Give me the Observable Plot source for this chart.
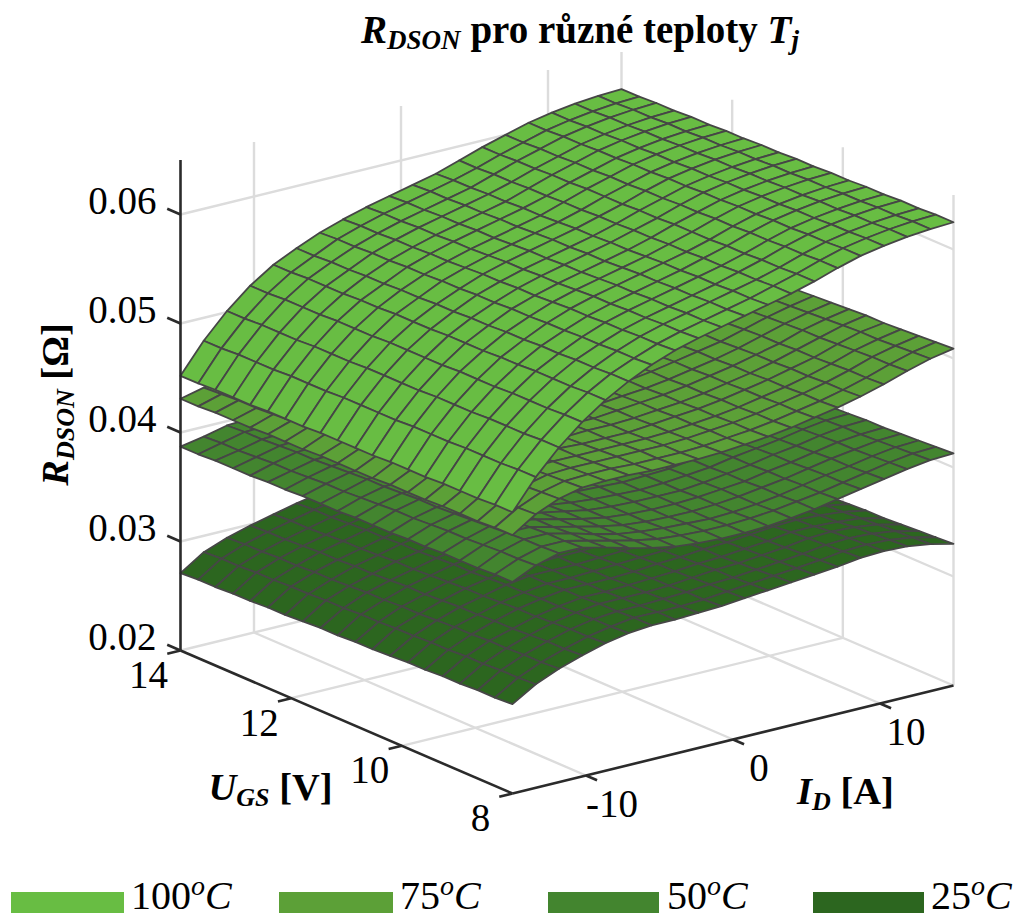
<!DOCTYPE html>
<html><head><meta charset="utf-8">
<script src="https://cdn.jsdelivr.net/npm/d3@7"></script>
<script src="https://cdn.jsdelivr.net/npm/@observablehq/plot@0.6"></script>
<style>
html,body{margin:0;padding:0;background:#fff;overflow:hidden}
#page{position:relative;width:1030px;height:919px;font-family:"Liberation Serif",serif;color:#000}
#title{position:absolute;left:0;top:0;width:1160px;height:50px;line-height:60px;text-align:center;font-weight:bold;font-size:39px;white-space:nowrap}
#title sub{font-size:27px;line-height:0;vertical-align:-6px}
#chart{position:absolute;left:0;top:50px}
.sw{position:absolute;top:892px;height:21px}
.lb{position:absolute;top:881px;height:30px;font-size:40px;line-height:30px;white-space:nowrap}
.lb i{font-style:italic}
.lb sup{font-size:28px;line-height:0;vertical-align:14px;font-style:italic}
</style></head><body>
<div id="page">
<div id="title"><i>R<sub>DSON</sub></i> pro různé teploty <i>T<sub>j</sub></i></div>
<div id="chart"></div>
<div id="legend"></div>
</div>
<script>
// Grid of the measured surfaces
const idValues=[-15,-13.42,-11.84,-10.26,-8.68,-7.11,-5.53,-3.95,-2.37,-0.79,0.79,2.37,3.95,5.53,7.11,8.68,10.26,11.84,13.42,15];
const ugsValues=[14,13.68,13.37,13.05,12.74,12.42,12.11,11.79,11.47,11.16,10.84,10.53,10.21,9.89,9.58,9.26,8.95,8.63,8.32,8];
// RDSON in milliohm: one row per ID value, one entry per UGS value
const r100=[
[45.2,45.2,45.3,45.3,45.3,45.4,45.4,45.4,45.5,45.5,45.5,45.5,45.6,45.6,45.6,45.7,45.7,45.7,45.8,45.8],
[47.9,47.9,48.0,48.0,48.0,48.1,48.1,48.1,48.2,48.2,48.2,48.2,48.3,48.3,48.3,48.4,48.4,48.4,48.5,48.5],
[50.1,50.1,50.2,50.2,50.2,50.3,50.3,50.3,50.4,50.4,50.4,50.4,50.5,50.5,50.5,50.6,50.6,50.6,50.7,50.7],
[51.9,51.9,52.0,52.0,52.0,52.1,52.1,52.1,52.2,52.2,52.2,52.2,52.3,52.3,52.3,52.4,52.4,52.4,52.5,52.5],
[53.3,53.3,53.4,53.4,53.4,53.5,53.5,53.6,53.6,53.6,53.7,53.7,53.7,53.8,53.8,53.9,53.9,53.9,54.0,54.0],
[54.3,54.3,54.4,54.4,54.5,54.5,54.6,54.6,54.7,54.7,54.8,54.8,54.9,54.9,55.0,55.0,55.1,55.1,55.2,55.2],
[55.2,55.3,55.3,55.4,55.4,55.5,55.5,55.6,55.6,55.7,55.7,55.8,55.8,55.9,55.9,56.0,56.0,56.1,56.1,56.2],
[55.9,56.0,56.0,56.1,56.1,56.2,56.2,56.3,56.4,56.4,56.5,56.5,56.6,56.7,56.7,56.8,56.8,56.9,56.9,57.0],
[56.5,56.6,56.6,56.7,56.7,56.8,56.8,56.9,57.0,57.0,57.1,57.1,57.2,57.3,57.3,57.4,57.4,57.5,57.5,57.6],
[57.0,57.1,57.1,57.2,57.2,57.3,57.3,57.4,57.5,57.5,57.6,57.6,57.7,57.8,57.8,57.9,57.9,58.0,58.0,58.1],
[57.5,57.6,57.6,57.7,57.7,57.8,57.8,57.9,58.0,58.0,58.1,58.1,58.2,58.3,58.3,58.4,58.4,58.5,58.5,58.6],
[58.0,58.1,58.1,58.2,58.2,58.3,58.3,58.4,58.5,58.5,58.6,58.6,58.7,58.8,58.8,58.9,58.9,59.0,59.0,59.1],
[58.7,58.7,58.8,58.8,58.9,58.9,59.0,59.0,59.1,59.1,59.2,59.2,59.3,59.3,59.4,59.4,59.5,59.5,59.6,59.6],
[59.4,59.4,59.5,59.5,59.6,59.6,59.7,59.7,59.7,59.8,59.8,59.9,59.9,59.9,60.0,60.0,60.1,60.1,60.2,60.2],
[60.0,60.0,60.1,60.1,60.2,60.2,60.3,60.3,60.4,60.4,60.5,60.5,60.6,60.6,60.7,60.7,60.8,60.8,60.9,60.9],
[60.6,60.6,60.7,60.7,60.8,60.8,60.9,60.9,61.0,61.0,61.1,61.1,61.2,61.2,61.3,61.3,61.4,61.4,61.5,61.5],
[61.0,61.0,61.1,61.1,61.2,61.2,61.3,61.3,61.4,61.4,61.5,61.5,61.6,61.6,61.7,61.7,61.8,61.8,61.9,61.9],
[61.3,61.3,61.4,61.4,61.5,61.5,61.6,61.6,61.7,61.7,61.8,61.8,61.9,61.9,62.0,62.0,62.1,62.1,62.2,62.2],
[61.5,61.5,61.6,61.6,61.7,61.7,61.8,61.8,61.9,61.9,62.0,62.0,62.1,62.1,62.2,62.2,62.3,62.3,62.4,62.4],
[61.6,61.6,61.7,61.7,61.8,61.8,61.9,61.9,62.0,62.0,62.1,62.1,62.2,62.2,62.3,62.3,62.4,62.4,62.5,62.5]];
const r75=[
[43.1,43.1,43.2,43.2,43.2,43.3,43.3,43.3,43.4,43.4,43.4,43.4,43.5,43.5,43.5,43.6,43.6,43.6,43.7,43.7],
[43.6,43.7,43.8,43.8,43.9,44.0,44.1,44.2,44.2,44.3,44.4,44.5,44.5,44.6,44.7,44.8,44.9,44.9,45.0,45.1],
[44.1,44.2,44.3,44.4,44.5,44.6,44.7,44.8,44.9,45.0,45.1,45.2,45.3,45.4,45.5,45.6,45.7,45.8,45.9,46.0],
[44.5,44.6,44.7,44.8,44.9,45.0,45.1,45.2,45.3,45.4,45.6,45.7,45.8,45.9,46.0,46.1,46.2,46.3,46.4,46.5],
[44.8,44.9,45.0,45.1,45.2,45.3,45.4,45.5,45.6,45.7,45.7,45.8,45.9,46.0,46.1,46.2,46.3,46.4,46.5,46.6],
[45.0,45.1,45.2,45.3,45.3,45.4,45.5,45.6,45.7,45.8,45.8,45.9,46.0,46.1,46.2,46.3,46.3,46.4,46.5,46.6],
[45.1,45.2,45.2,45.3,45.4,45.5,45.5,45.6,45.7,45.8,45.8,45.9,46.0,46.1,46.1,46.2,46.3,46.4,46.4,46.5],
[45.2,45.3,45.3,45.4,45.5,45.5,45.6,45.7,45.7,45.8,45.9,46.0,46.0,46.1,46.2,46.2,46.3,46.4,46.4,46.5],
[45.3,45.4,45.4,45.5,45.6,45.6,45.7,45.7,45.8,45.9,45.9,46.0,46.1,46.1,46.2,46.2,46.3,46.4,46.4,46.5],
[45.5,45.6,45.6,45.7,45.7,45.8,45.8,45.9,46.0,46.0,46.1,46.1,46.2,46.3,46.3,46.4,46.4,46.5,46.5,46.6],
[45.7,45.8,45.8,45.9,45.9,46.0,46.0,46.1,46.2,46.2,46.3,46.3,46.4,46.5,46.5,46.6,46.6,46.7,46.7,46.8],
[46.0,46.1,46.1,46.2,46.2,46.3,46.3,46.4,46.4,46.5,46.5,46.6,46.6,46.7,46.7,46.8,46.8,46.9,46.9,47.0],
[46.3,46.4,46.4,46.5,46.5,46.6,46.6,46.7,46.7,46.8,46.8,46.9,46.9,47.0,47.0,47.1,47.1,47.2,47.2,47.3],
[46.7,46.8,46.8,46.9,46.9,47.0,47.0,47.1,47.1,47.2,47.2,47.3,47.3,47.4,47.4,47.5,47.5,47.6,47.6,47.7],
[47.1,47.2,47.2,47.3,47.3,47.4,47.4,47.5,47.5,47.6,47.6,47.7,47.7,47.8,47.8,47.9,47.9,48.0,48.0,48.1],
[47.5,47.6,47.6,47.7,47.7,47.8,47.8,47.9,48.0,48.0,48.1,48.1,48.2,48.3,48.3,48.4,48.4,48.5,48.5,48.6],
[48.0,48.1,48.1,48.2,48.3,48.3,48.4,48.4,48.5,48.6,48.6,48.7,48.8,48.8,48.9,48.9,49.0,49.1,49.1,49.2],
[48.5,48.6,48.6,48.7,48.8,48.9,48.9,49.0,49.1,49.2,49.2,49.3,49.4,49.5,49.5,49.6,49.7,49.8,49.8,49.9],
[48.9,49.0,49.1,49.2,49.2,49.3,49.4,49.5,49.6,49.7,49.7,49.8,49.9,50.0,50.1,50.2,50.2,50.3,50.4,50.5],
[49.2,49.3,49.4,49.5,49.6,49.6,49.7,49.8,49.9,50.0,50.1,50.2,50.3,50.4,50.5,50.5,50.6,50.7,50.8,50.9]];
const r50=[
[38.7,38.7,38.8,38.8,38.8,38.9,38.9,39.0,39.0,39.0,39.1,39.1,39.1,39.2,39.2,39.3,39.3,39.3,39.4,39.4],
[39.1,39.2,39.2,39.3,39.4,39.4,39.5,39.6,39.6,39.7,39.8,39.9,39.9,40.0,40.1,40.1,40.2,40.3,40.3,40.4],
[39.6,39.7,39.7,39.8,39.9,39.9,40.0,40.1,40.2,40.2,40.3,40.4,40.4,40.5,40.6,40.7,40.8,40.9,40.9,41.0],
[39.7,39.8,39.8,39.9,40.0,40.0,40.1,40.2,40.2,40.3,40.4,40.5,40.5,40.6,40.7,40.7,40.8,40.9,40.9,41.0],
[39.5,39.6,39.6,39.7,39.7,39.8,39.8,39.9,39.9,40.0,40.0,40.1,40.1,40.2,40.2,40.3,40.3,40.4,40.4,40.5],
[39.2,39.2,39.3,39.3,39.3,39.4,39.4,39.5,39.5,39.5,39.6,39.6,39.6,39.7,39.7,39.8,39.8,39.8,39.9,39.9],
[38.9,38.9,39.0,39.0,39.0,39.0,39.1,39.1,39.1,39.1,39.2,39.2,39.2,39.2,39.3,39.3,39.3,39.3,39.4,39.4],
[38.6,38.6,38.6,38.7,38.7,38.7,38.7,38.7,38.8,38.8,38.8,38.8,38.9,38.9,38.9,38.9,38.9,39.0,39.0,39.0],
[38.4,38.4,38.4,38.5,38.5,38.5,38.5,38.5,38.6,38.6,38.6,38.6,38.7,38.7,38.7,38.7,38.7,38.8,38.8,38.8],
[38.3,38.3,38.3,38.4,38.4,38.4,38.4,38.4,38.5,38.5,38.5,38.5,38.6,38.6,38.6,38.6,38.6,38.7,38.7,38.7],
[38.2,38.2,38.3,38.3,38.3,38.3,38.4,38.4,38.4,38.4,38.5,38.5,38.5,38.5,38.6,38.6,38.6,38.6,38.7,38.7],
[38.2,38.2,38.3,38.3,38.3,38.4,38.4,38.4,38.5,38.5,38.5,38.5,38.6,38.6,38.6,38.7,38.7,38.7,38.8,38.8],
[38.3,38.3,38.4,38.4,38.4,38.5,38.5,38.6,38.6,38.6,38.7,38.7,38.7,38.8,38.8,38.9,38.9,38.9,39.0,39.0],
[38.4,38.4,38.5,38.5,38.6,38.6,38.7,38.7,38.8,38.8,38.9,38.9,39.0,39.0,39.1,39.1,39.2,39.2,39.3,39.3],
[38.6,38.7,38.7,38.8,38.8,38.9,38.9,39.0,39.1,39.1,39.2,39.2,39.3,39.4,39.4,39.5,39.5,39.6,39.6,39.7],
[38.8,38.9,38.9,39.0,39.1,39.1,39.2,39.3,39.3,39.4,39.5,39.6,39.6,39.7,39.8,39.8,39.9,40.0,40.0,40.1],
[39.0,39.1,39.2,39.2,39.3,39.4,39.5,39.6,39.6,39.7,39.8,39.9,39.9,40.0,40.1,40.2,40.3,40.3,40.4,40.5],
[39.3,39.4,39.5,39.6,39.6,39.7,39.8,39.9,40.0,40.1,40.1,40.2,40.3,40.4,40.5,40.6,40.6,40.7,40.8,40.9],
[39.5,39.6,39.7,39.8,39.9,39.9,40.0,40.1,40.2,40.3,40.4,40.5,40.6,40.7,40.8,40.8,40.9,41.0,41.1,41.2],
[39.6,39.7,39.8,39.9,40.0,40.0,40.1,40.2,40.3,40.4,40.5,40.6,40.7,40.8,40.9,40.9,41.0,41.1,41.2,41.3]];
const r25=[
[27.1,27.2,27.2,27.3,27.3,27.4,27.4,27.5,27.6,27.6,27.7,27.7,27.8,27.9,27.9,28.0,28.0,28.1,28.1,28.2],
[28.5,28.6,28.6,28.7,28.7,28.8,28.8,28.9,28.9,29.0,29.0,29.1,29.1,29.2,29.2,29.3,29.3,29.4,29.4,29.5],
[29.3,29.4,29.4,29.5,29.5,29.6,29.6,29.7,29.8,29.8,29.9,29.9,30.0,30.1,30.1,30.2,30.2,30.3,30.3,30.4],
[29.9,30.0,30.0,30.1,30.2,30.2,30.3,30.3,30.4,30.5,30.5,30.6,30.7,30.7,30.8,30.8,30.9,31.0,31.0,31.1],
[30.4,30.5,30.5,30.6,30.7,30.7,30.8,30.9,30.9,31.0,31.1,31.2,31.2,31.3,31.4,31.4,31.5,31.6,31.6,31.7],
[30.9,31.0,31.0,31.1,31.2,31.2,31.3,31.3,31.4,31.5,31.5,31.6,31.7,31.7,31.8,31.8,31.9,32.0,32.0,32.1],
[31.3,31.4,31.4,31.5,31.6,31.6,31.7,31.7,31.8,31.8,31.9,31.9,32.0,32.0,32.1,32.1,32.2,32.2,32.3,32.3],
[31.4,31.4,31.5,31.5,31.6,31.6,31.7,31.7,31.8,31.8,31.9,31.9,32.0,32.0,32.1,32.1,32.2,32.2,32.3,32.3],
[31.4,31.5,31.5,31.6,31.6,31.7,31.7,31.8,31.8,31.9,31.9,32.0,32.0,32.1,32.1,32.2,32.2,32.3,32.3,32.4],
[31.4,31.5,31.5,31.6,31.6,31.7,31.7,31.8,31.9,31.9,32.0,32.0,32.1,32.2,32.2,32.3,32.3,32.4,32.4,32.5],
[31.4,31.5,31.5,31.6,31.7,31.7,31.8,31.9,31.9,32.0,32.1,32.2,32.2,32.3,32.4,32.4,32.5,32.6,32.6,32.7],
[31.4,31.5,31.6,31.6,31.7,31.8,31.9,32.0,32.0,32.1,32.2,32.3,32.3,32.4,32.5,32.6,32.7,32.7,32.8,32.9],
[31.4,31.5,31.6,31.7,31.8,31.8,31.9,32.0,32.1,32.2,32.3,32.4,32.5,32.6,32.7,32.7,32.8,32.9,33.0,33.1],
[31.5,31.6,31.7,31.8,31.9,32.0,32.1,32.2,32.3,32.4,32.4,32.5,32.6,32.7,32.8,32.9,33.0,33.1,33.2,33.3],
[31.6,31.7,31.8,31.9,32.0,32.1,32.2,32.3,32.4,32.5,32.6,32.7,32.8,32.9,33.0,33.1,33.2,33.3,33.4,33.5],
[31.7,31.8,31.9,32.0,32.1,32.3,32.4,32.5,32.6,32.7,32.8,32.9,33.0,33.1,33.2,33.4,33.5,33.6,33.7,33.8],
[31.7,31.8,31.9,32.0,32.2,32.3,32.4,32.5,32.6,32.7,32.9,33.0,33.1,33.2,33.3,33.4,33.6,33.7,33.8,33.9],
[31.6,31.7,31.8,31.9,32.1,32.2,32.3,32.4,32.5,32.6,32.8,32.9,33.0,33.1,33.2,33.3,33.5,33.6,33.7,33.8],
[31.5,31.6,31.7,31.8,31.9,32.0,32.1,32.2,32.3,32.4,32.6,32.7,32.8,32.9,33.0,33.1,33.2,33.3,33.4,33.5],
[31.3,31.4,31.5,31.6,31.7,31.7,31.8,31.9,32.0,32.1,32.2,32.3,32.4,32.5,32.6,32.6,32.7,32.8,32.9,33.0]];
// Axis ticks
const rTicks=[0.02,0.03,0.04,0.05,0.06];
const ugsTicks=[14,12,10,8];
const idTicks=[-10,0,10];
// Legend
const tempLabels=["100","75","50","25"];
const tempColors=["#68bd43","#5ca037","#43852f","#2c661f"];
const tempTables=[r100,r75,r50,r25];

// Orthographic view of the box: ID -15..15, UGS 14..8, R 0.02..0.065
const view={ox:180,oy:650,ix:441/30,iy:-108/30,ux:-332/6,uy:-143/6,rz:-10900};
const px=(I,U)=>view.ox+(I+15)*view.ix+(U-14)*view.ux;
const py=(I,U,R)=>view.oy+(I+15)*view.iy+(U-14)*view.uy+(R-0.02)*view.rz;
const P=(I,U,R)=>({x:px(I,U),y:py(I,U,R)});
const seg=(a,b)=>({x1:a.x,y1:a.y,x2:b.x,y2:b.y});
const Rtop=0.065,Rlow=0.02;

// surfaces, bottom to top, cells back to front
function cells(table){
  const out=[];
  for(let i=18;i>=0;i--)for(let j=0;j<19;j++){
    const id=i+"_"+j;
    [[i,j],[i+1,j],[i+1,j+1],[i,j+1]].forEach(([a,b])=>{
      out.push({cell:id,...P(idValues[a],ugsValues[b],table[a][b]/1000)});
    });
  }
  return out;
}
const surfaceMarks=[3,2,1,0].map(k=>Plot.line(cells(tempTables[k]),{x:"x",y:"y",z:"cell",curve:"linear-closed",fill:tempColors[k],stroke:"#464646",strokeWidth:1.8,strokeLinejoin:"round"}));

// light grid
const grid=[];
[...idTicks,15].forEach(I=>grid.push(seg(P(I,14,Rlow),P(I,14,Rtop))));
[12,10,8].forEach(U=>grid.push(seg(P(15,U,Rlow),P(15,U,Rtop))));
rTicks.forEach(R=>{grid.push(seg(P(-15,14,R),P(15,14,R)));grid.push(seg(P(15,14,R),P(15,8,R)));});
idTicks.forEach(I=>grid.push(seg(P(I,14,Rlow),P(I,8,Rlow))));
[12,10].forEach(U=>grid.push(seg(P(-15,U,Rlow),P(15,U,Rlow))));
// dark axes and ticks
const axes=[seg(P(-15,14,Rlow),P(-15,14,Rtop)),seg(P(-15,14,Rlow),P(-15,8,Rlow)),seg(P(-15,8,Rlow),P(15,8,Rlow))];
rTicks.forEach(R=>axes.push(seg(P(-15,14,R),P(-15,14.24,R))));
ugsTicks.forEach(U=>axes.push(seg(P(-15,U,Rlow),P(-15.9,U,Rlow))));
idTicks.forEach(I=>axes.push(seg(P(I,8,Rlow),P(I,7.8,Rlow))));

const tickFont={fontFamily:"Liberation Serif",fontSize:39,fill:"#000"};
const rLabels=rTicks.map(R=>({...P(-15,14,R),t:R.toFixed(2)}));
const uLabels=ugsTicks.map(U=>({...P(-15,U,Rlow),t:String(U)}));
const iLabels=idTicks.map(I=>({...P(I,8,Rlow),t:String(I)}));
const titleFont={fontFamily:"Liberation Serif",fontSize:38.5,fontWeight:"bold",fill:"#000"};

const svg=Plot.plot({
  width:1030,height:810,margin:0,
  style:{background:"transparent",overflow:"visible"},
  x:{domain:[0,1030],range:[0,1030],axis:null},
  y:{domain:[50,860],range:[0,810],axis:null},
  marks:[
    Plot.link(grid,{x1:"x1",y1:"y1",x2:"x2",y2:"y2",stroke:"#dcdcdc",strokeWidth:2.4}),
    ...surfaceMarks,
    Plot.link(axes,{x1:"x1",y1:"y1",x2:"x2",y2:"y2",stroke:"#2b2b2b",strokeWidth:2.6}),
    Plot.text(rLabels,{x:"x",y:"y",text:"t",dx:-24,dy:-13,textAnchor:"end",...tickFont}),
    Plot.text(uLabels,{x:"x",y:"y",text:"t",dx:-32,dy:25,...tickFont}),
    Plot.text(iLabels,{x:"x",y:"y",text:"t",dx:26,dy:29,...tickFont}),
    Plot.text(["R"],{x:()=>55,y:()=>404,text:()=>"@R",rotate:-90,...titleFont}),
    Plot.text(["U"],{x:()=>270,y:()=>787,text:()=>"@U",...titleFont}),
    Plot.text(["I"],{x:()=>845,y:()=>791,text:()=>"@I",...titleFont})
  ]
});
// axis titles with subscripts
const rich={"@R":["R","DSON"," [Ω]"],"@U":["U","GS"," [V]"],"@I":["I","D"," [A]"]};
svg.querySelectorAll("text").forEach(el=>{
  const r=rich[el.textContent];
  if(!r)return;
  el.textContent="";
  const add=(s,attrs)=>{const t=document.createElementNS("http://www.w3.org/2000/svg","tspan");t.textContent=s;for(const k in attrs)t.setAttribute(k,attrs[k]);el.appendChild(t);};
  add(r[0],{"font-style":"italic"});
  add(r[1],{"font-style":"italic","font-size":"26","dy":"6"});
  add(r[2],{"dy":"-6"});
});
document.getElementById("chart").appendChild(svg);

// legend
const swX=[11,279,548,813],swW=[113,114,111,111],lbX=[131,400,667,931];
const lg=document.getElementById("legend");
tempLabels.forEach((t,k)=>{
  const s=document.createElement("div");s.className="sw";s.style.left=swX[k]+"px";s.style.width=swW[k]+"px";s.style.background=tempColors[k];lg.appendChild(s);
  const l=document.createElement("div");l.className="lb";l.style.left=lbX[k]+"px";l.innerHTML=t+"<sup>o</sup><i>C</i>";lg.appendChild(l);
});
</script>
</body></html>
